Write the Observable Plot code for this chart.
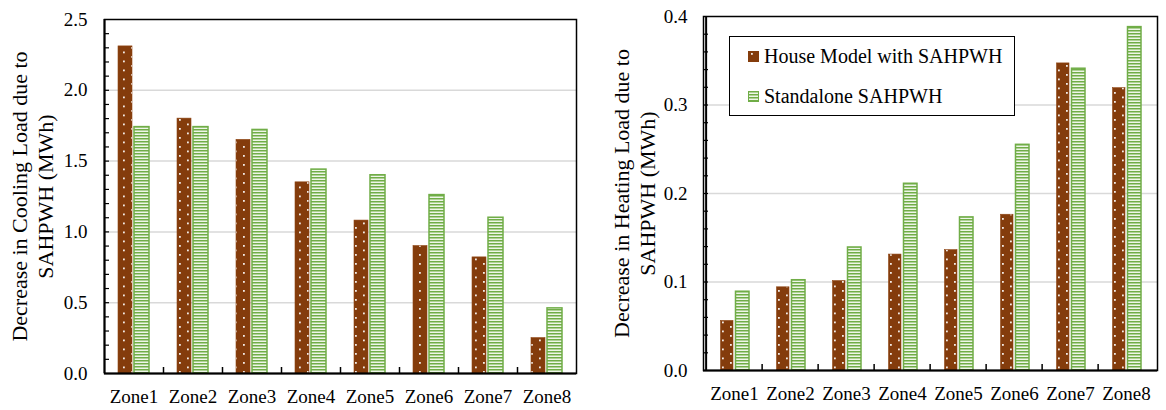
<!DOCTYPE html>
<html>
<head>
<meta charset="utf-8">
<script src="https://cdn.jsdelivr.net/npm/d3@7"></script>
<script src="https://cdn.jsdelivr.net/npm/@observablehq/plot@0.6"></script>
<style>
  body { margin: 0; background: #fff; font-family: "Liberation Serif", "Times New Roman", serif; color: #000; }
  #wrap { position: relative; display: flex; width: 1166px; height: 410px; }
  #wrap svg text { font-family: "Liberation Serif", "Times New Roman", serif !important; }
  .legend { position: absolute; left: 729px; top: 36px; width: 286px; height: 80px; box-sizing: border-box;
            border: 1.5px solid #000; background: #fff; font-size: 20px; }
  .legend .item { position: absolute; left: 18px; height: 22px; display: flex; align-items: center; white-space: nowrap; }
  .legend .item svg { margin-right: 5px; }
</style>
</head>
<body>
<!-- shared fill patterns -->
<svg width="0" height="0" style="position:absolute">
  <defs>
    <pattern id="dots" patternUnits="userSpaceOnUse" width="16" height="9">
      <rect width="16" height="9" fill="#843c0c"/>
      <rect x="3" y="2" width="1.8" height="1.8" fill="#fff" opacity="0.9"/>
      <rect x="11" y="6.5" width="1.8" height="1.8" fill="#fff" opacity="0.9"/>
    </pattern>
    <pattern id="stripes" patternUnits="userSpaceOnUse" width="4" height="3">
      <rect width="4" height="3" fill="#eef6e8"/>
      <rect width="4" height="1.5" fill="#70ad47"/>
    </pattern>
  </defs>
</svg>
<div id="wrap">
  <div class="legend">
    <div class="item" style="top:8px">
      <svg width="11" height="11"><rect width="11" height="11" fill="url(#dots)"/></svg>
      <span>House Model with SAHPWH</span>
    </div>
    <div class="item" style="top:48px">
      <svg width="11" height="11"><rect x="0.5" y="0.5" width="10" height="10" fill="url(#stripes)" stroke="#70ad47"/></svg>
      <span>Standalone SAHPWH</span>
    </div>
  </div>
</div>
<script>
// Climate zones on the x axis
const zones = ["Zone1", "Zone2", "Zone3", "Zone4", "Zone5", "Zone6", "Zone7", "Zone8"];

// Decrease in cooling load (MWh)
const coolingHouse      = [2.31, 1.80, 1.65, 1.35, 1.08, 0.90, 0.82, 0.25];
const coolingStandalone = [1.74, 1.74, 1.72, 1.44, 1.40, 1.26, 1.10, 0.46];

// Decrease in heating load (MWh)
const heatingHouse      = [0.056, 0.094, 0.101, 0.131, 0.136, 0.176, 0.347, 0.319];
const heatingStandalone = [0.089, 0.102, 0.139, 0.211, 0.173, 0.255, 0.341, 0.388];

// Axis ticks
const coolingMajor = [0, 0.5, 1.0, 1.5, 2.0, 2.5];
const coolingMinor = d3.range(1, 25).map(i => i / 10);
const heatingMajor = [0, 0.1, 0.2, 0.3, 0.4];
const heatingMinor = d3.range(1, 20).map(i => i / 50);

const coolingTitle = "Decrease in Cooling Load due to\nSAHPWH (MWh)";
const heatingTitle = "Decrease in Heating Load due to\nSAHPWH (MWh)";

const serif = "'Liberation Serif', 'Times New Roman', serif";

function panel(o) {
  const data = zones.map((z, i) => ({zone: z, house: o.house[i], standalone: o.standalone[i]}));
  const band = (o.width - o.marginLeft - o.marginRight) / zones.length;
  return Plot.plot({
    width: o.width,
    height: 410,
    marginLeft: o.marginLeft,
    marginRight: o.marginRight,
    marginTop: o.marginTop,
    marginBottom: o.marginBottom,
    style: {fontFamily: serif, fontSize: "19px", color: "#000", background: "transparent", overflow: "visible"},
    x: {domain: zones, padding: 0, axis: null, label: null},
    y: {domain: [0, o.yMax], axis: null, label: null},
    marks: [
      Plot.gridY(o.major.filter(v => v > 0 && v < o.yMax), {stroke: "#d9d9d9", strokeOpacity: 1, strokeWidth: 1.5}),
      Plot.barY(data, {x: "zone", y: "house", fill: "url(#dots)", stroke: "#8f4513", strokeWidth: 0.6,
        insetLeft: o.houseInset[0], insetRight: o.houseInset[1]}),
      Plot.barY(data, {x: "zone", y: "standalone", fill: "url(#stripes)", stroke: "#70ad47", strokeWidth: 1.5,
        insetLeft: o.standInset[0], insetRight: o.standInset[1]}),
      Plot.frame({stroke: "#000", strokeWidth: 1.5}),
      Plot.ruleX([zones[0]], {dx: -band / 2, stroke: "#000", strokeWidth: 2}),
      Plot.ruleY([0], {stroke: "#000", strokeWidth: 2}),
      Plot.axisY(o.minor, {tickSize: -5, text: null, label: null, stroke: "#000", strokeWidth: 1.2}),
      Plot.axisY(o.major, {tickSize: 0, tickPadding: o.yPad, tickFormat: d3.format(".1f"), fontSize: 19, fontFamily: serif, label: null, fill: "#000"}),
      Plot.axisX(zones.slice(1), {tickSize: -6, text: null, label: null, dx: -band / 2, stroke: "#000", strokeWidth: 1.5}),
      Plot.axisX({tickSize: 0, tickPadding: o.xPad, fontSize: 19, fontFamily: serif, label: null, fill: "#000"}),
      Plot.text([o.title], {text: d => d, frameAnchor: "left", textAnchor: "middle", lineAnchor: "middle",
        rotate: -90, dx: o.titleDx, lineHeight: 1.2, fontSize: 22, fontFamily: serif, fill: "#000"})
    ]
  });
}

const wrap = document.getElementById("wrap");
const left = panel({
  width: 583, marginLeft: 104, marginRight: 7, marginTop: 19, marginBottom: 37,
  yMax: 2.5, house: coolingHouse, standalone: coolingStandalone,
  major: coolingMajor, minor: coolingMinor,
  houseInset: [14, 31], standInset: [30, 14],
  yPad: 17, xPad: 16, title: coolingTitle, titleDx: -73
});
const right = panel({
  width: 583, marginLeft: 120, marginRight: 9, marginTop: 16, marginBottom: 40,
  yMax: 0.4, house: heatingHouse, standalone: heatingStandalone,
  major: heatingMajor, minor: heatingMinor,
  houseInset: [14.5, 29], standInset: [29.5, 13],
  yPad: 16, xPad: 16, title: heatingTitle, titleDx: -70
});
wrap.insertBefore(left, wrap.firstChild);
wrap.insertBefore(right, wrap.children[1]);
</script>
</body>
</html>
